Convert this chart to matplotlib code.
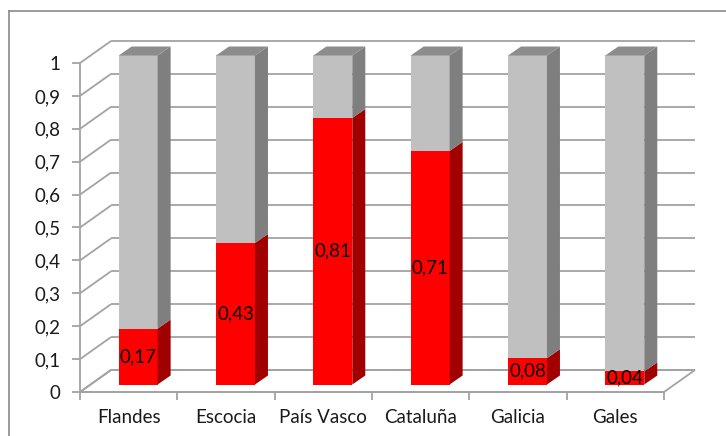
import matplotlib
matplotlib.use("Agg")
import matplotlib.pyplot as plt
from matplotlib.patches import Polygon
from matplotlib.lines import Line2D
import numpy as np

# Share of each region (red part of the stacked column; grey fills up to 1)
regions = ["Flandes", "Escocia", "País Vasco", "Cataluña", "Galicia", "Gales"]
share = [0.17, 0.43, 0.81, 0.71, 0.08, 0.04]
total = [1.0, 1.0, 1.0, 1.0, 1.0, 1.0]
y_ticks = [0.0, 0.1, 0.2, 0.3, 0.4, 0.5, 0.6, 0.7, 0.8, 0.9, 1.0]

plt.rcParams["font.family"] = ["Lato", "DejaVu Sans"]

W, H = 726, 436
fig = plt.figure(figsize=(W / 100, H / 100), dpi=100)
ax = fig.add_axes([0, 0, 1, 1])

# pixel scale of one category and one value unit on the front plane
px_cat = 97.33
px_val = 329.0
x0_px, y0_px = 80.0, 392.0
ax.set_xlim(-x0_px / px_cat, (W - x0_px) / px_cat)
ax.set_ylim(-(H - y0_px) / px_val, y0_px / px_val)

# oblique depth of the floor and of the columns (category / value units)
DX, DY = 31 / px_cat, 22 / px_val
fx, fy = 9.5 / px_cat, 7.5 / px_val      # column front face
bx, by = 22.5 / px_cat, 16.5 / px_val    # column back face
bar_w = 0.40
n = len(regions)
fs = 13.5

grid_c = "#a3a3a3"
grid_lw = 1.3

# floor and walls
floor = Polygon([(0, 0), (n, 0), (n + DX, DY), (DX, DY)], closed=True,
                facecolor="white", edgecolor=grid_c, lw=grid_lw, zorder=1)
ax.add_patch(floor)
for v in y_ticks:
    ax.plot([0, DX], [v, v + DY], color=grid_c, lw=grid_lw, zorder=1,
            solid_capstyle="butt")
    ax.plot([DX, n + DX], [v + DY, v + DY], color=grid_c, lw=grid_lw, zorder=1,
            solid_capstyle="butt")


def box(x_left, y_lo, y_hi, front, side, top=None, z=3):
    xl = x_left + fx
    xr = xl + bar_w
    ax.add_patch(Polygon([(xl, y_lo + fy), (xr, y_lo + fy), (xr, y_hi + fy), (xl, y_hi + fy)],
                         closed=True, facecolor=front, edgecolor="none", zorder=z))
    ax.add_patch(Polygon([(xr, y_lo + fy), (x_left + bar_w + bx, y_lo + by),
                          (x_left + bar_w + bx, y_hi + by), (xr, y_hi + fy)],
                         closed=True, facecolor=side, edgecolor="none", zorder=z))
    if top is not None:
        ax.add_patch(Polygon([(xl, y_hi + fy), (xr, y_hi + fy),
                              (x_left + bar_w + bx, y_hi + by), (x_left + bx, y_hi + by)],
                             closed=True, facecolor=top, edgecolor="none", zorder=z))


for i, (s, t) in enumerate(zip(share, total)):
    left = i + 0.5 - bar_w / 2
    box(left, 0, s, "#ff0000", "#a00000")
    box(left, s, t, "#c0c0c0", "#7f7f7f", top="#8c8c8c")
    ax.text(left + fx + bar_w / 2, fy + s / 2, f"{s:.2f}".replace(".", ","),
            ha="center", va="center", fontsize=fs, color="black", zorder=5)

# front axes
for side in ["top", "right"]:
    ax.spines[side].set_visible(False)
ax.spines["left"].set_position(("data", 0))
ax.spines["left"].set_bounds(0, 1)
ax.spines["bottom"].set_position(("data", 0))
ax.spines["bottom"].set_bounds(0, n)
for side in ["left", "bottom"]:
    ax.spines[side].set_color(grid_c)
    ax.spines[side].set_linewidth(grid_lw)
    ax.spines[side].set_zorder(2)

ax.set_yticks(y_ticks)
ax.set_yticklabels([f"{v:g}".replace(".", ",") for v in y_ticks])
ax.set_xticks(np.arange(n + 1))
ax.set_xticklabels([])
ax.set_xticks(np.arange(n) + 0.5, minor=True)
ax.set_xticklabels(regions, minor=True)
ax.tick_params(axis="both", which="major", direction="out", length=5.8,
               width=grid_lw, color=grid_c, labelsize=fs, labelcolor="#1a1a1a")
ax.tick_params(axis="y", pad=8)
ax.tick_params(axis="x", which="minor", length=0, pad=12, labelsize=fs,
               labelcolor="#1a1a1a")

# chart area border
fig.add_artist(Line2D([8.5 / W, 8.5 / W], [0, 1 - 11.5 / H], color="#8a8a8a", lw=1.2))
fig.add_artist(Line2D([8.5 / W, 1], [1 - 11.5 / H, 1 - 11.5 / H], color="#8a8a8a", lw=1.2))

fig.savefig("out.png", dpi=100)
